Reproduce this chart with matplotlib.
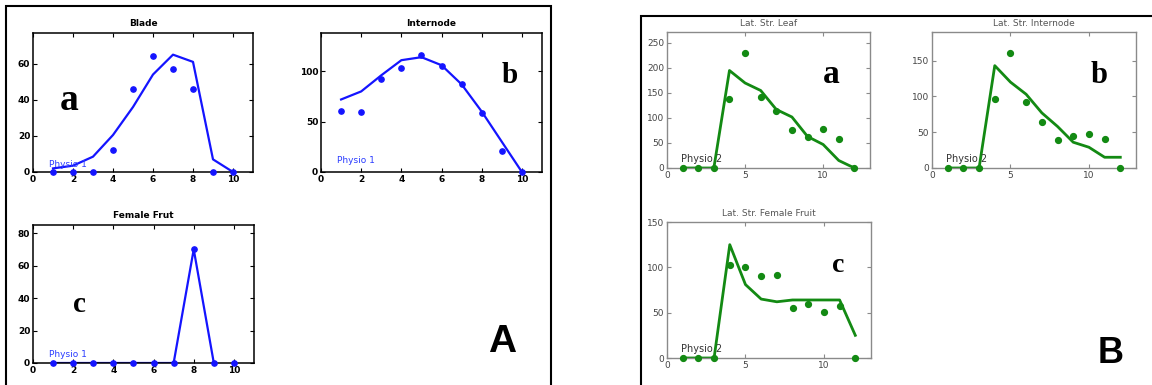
import matplotlib
matplotlib.use("Agg")
import matplotlib.pyplot as plt
from matplotlib.patches import Rectangle

W, H = 1152, 385
DPI = 100

# ---------------- data ----------------
x_a = [1, 2, 3, 4, 5, 6, 7, 8, 9, 10]
blade_obs = [0, 0, 0, 12, 46, 64, 57, 46, 0, 0]
blade_sim = [2, 3.5, 8.5, 20.5, 36, 54, 65, 61, 7, 0]
intern_obs = [61, 60, 92, 103, 116, 105, 87, 59, 21, 0]
intern_sim = [72, 80, 96, 111, 114, 106, 87, 60, 30, 0]
fruit_obs = [0, 0, 0, 0, 0, 0, 0, 70, 0, 0]
x_fruit_sim = [1, 2, 3, 4, 5, 6, 7, 8, 9]
fruit_sim = [0, 0, 0, 0, 0, 0, 0, 70, 0]

x_b = [1, 2, 3, 4, 5, 6, 7, 8, 9, 10, 11, 12]
leaf_obs = [0, 0, 0, 137, 229, 142, 113, 75, 62, 77, 58, 0]
leaf_sim = [0, 0, 0, 195, 170, 155, 117, 102, 63, 47, 15, 0]
lint_obs = [0, 0, 0, 97, 160, 92, 64, 39, 45, 48, 41, 0]
lint_sim = [0, 0, 0, 143, 120, 103, 77, 58, 36, 29, 15, 15]
lfruit_obs = [0, 0, 0, 103, 100, 90, 91, 55, 60, 51, 57, 0]
lfruit_sim = [0, 0, 0, 125, 81, 65, 62, 64, 64, 64, 64, 25]

titles_a = ["Blade", "Internode", "Female Frut"]
titles_b = ["Lat. Str. Leaf", "Lat. Str. Internode", "Lat. Str. Female Fruit"]

BLUE = "#1414ff"
GREEN = "#138a13"

fig = plt.figure(figsize=(W / DPI, H / DPI), dpi=DPI)


def px_axes(l, t, r, b):
    return fig.add_axes([l / W, 1 - b / H, (r - l) / W, (b - t) / H])


def style(ax, spine_color, tick_color, lw):
    for s in ax.spines.values():
        s.set_color(spine_color)
        s.set_linewidth(lw)
    ax.tick_params(direction="in", top=True, right=True, length=3, width=0.8,
                   color=spine_color, labelsize=6.5, labelcolor=tick_color, pad=2)


def fx(x):
    return x / W


def fy(y):
    return 1 - y / H


# ---------------- Panel A ----------------
specs_a = [
    ((33, 33, 253, 172), 77, [0, 20, 40, 60], x_a, blade_obs, x_a, blade_sim, 3),
    ((321, 33, 542, 172), 138, [0, 50, 100], x_a, intern_obs, x_a, intern_sim, 9),
    ((33, 225, 254, 363), 85, [0, 20, 40, 60, 80], x_a, fruit_obs, x_fruit_sim, fruit_sim, 4),
]
for (box, ymax, yt, xo, yo, xs, ys, py), title in zip(specs_a, titles_a):
    ax = px_axes(*box)
    ax.plot(xs, ys, color=BLUE, lw=1.6, zorder=2)
    ax.plot(xo, yo, "o", color=BLUE, ms=3.8, zorder=3, clip_on=False)
    ax.set_xlim(0, 11)
    ax.set_ylim(0, ymax)
    ax.set_xticks([0, 2, 4, 6, 8, 10])
    ax.set_yticks(yt)
    style(ax, "black", "black", 1.1)
    for lab in ax.get_xticklabels() + ax.get_yticklabels():
        lab.set_fontweight("bold")
    ax.set_title(title, fontsize=6.5, fontweight="bold", pad=5)
    ax.text(0.8, py, "Physio 1", color="#2a3cff", fontsize=6.5, va="baseline")

# ---------------- Panel B ----------------
specs_b = [
    ((667, 32, 870, 168), 272, [0, 50, 100, 150, 200, 250], lint_obs, leaf_obs, leaf_sim, 12),
    ((932, 32, 1136, 168), 190, [0, 50, 100, 150], None, lint_obs, lint_sim, 8),
    ((667, 222, 871, 358), 150, [0, 50, 100, 150], None, lfruit_obs, lfruit_sim, 7),
]
for (box, ymax, yt, _, yo, ys, py), title in zip(specs_b, titles_b):
    ax = px_axes(*box)
    ax.plot(x_b, ys, color=GREEN, lw=2.0, zorder=2)
    ax.plot(x_b, yo, "o", color=GREEN, ms=4.2, zorder=3, clip_on=False)
    ax.set_xlim(0, 13)
    ax.set_ylim(0, ymax)
    ax.set_xticks([0, 5, 10])
    ax.set_yticks(yt)
    style(ax, "#8a8a8a", "#444444", 1.0)
    ax.set_title(title, fontsize=6.5, color="#555555", pad=4)
    ax.text(0.9, py, "Physio 2", color="#333333", fontsize=7, va="baseline")

# ---------------- letters ----------------
serif = ["Liberation Serif", "DejaVu Serif"]
letters = [
    ("a", 69, 110, 27), ("b", 510, 83, 21), ("c", 79, 312, 21),
    ("a", 831, 83, 24), ("b", 1099, 83, 22), ("c", 838, 272, 20),
]
for ch, x, y, size in letters:
    fig.text(fx(x), fy(y), ch, family=serif, fontweight="bold", fontsize=size,
             ha="center", va="baseline")

fig.text(fx(502), fy(352), "A", family=["Liberation Sans", "DejaVu Sans"],
         fontweight="bold", fontsize=28, ha="center", va="baseline")
fig.text(fx(1111), fy(363), "B", family=["Liberation Sans", "DejaVu Sans"],
         fontweight="bold", fontsize=26, ha="center", va="baseline")

# ---------------- outer frames ----------------
fig.add_artist(Rectangle((fx(6), fy(420)), (551 - 6) / W, (420 - 6) / H,
                         transform=fig.transFigure, fill=False, lw=1.5,
                         edgecolor="black", clip_on=False))
fig.add_artist(Rectangle((fx(641), fy(420)), (1180 - 641) / W, (420 - 16) / H,
                         transform=fig.transFigure, fill=False, lw=1.5,
                         edgecolor="black", clip_on=False))

fig.savefig("out.png", dpi=DPI)
